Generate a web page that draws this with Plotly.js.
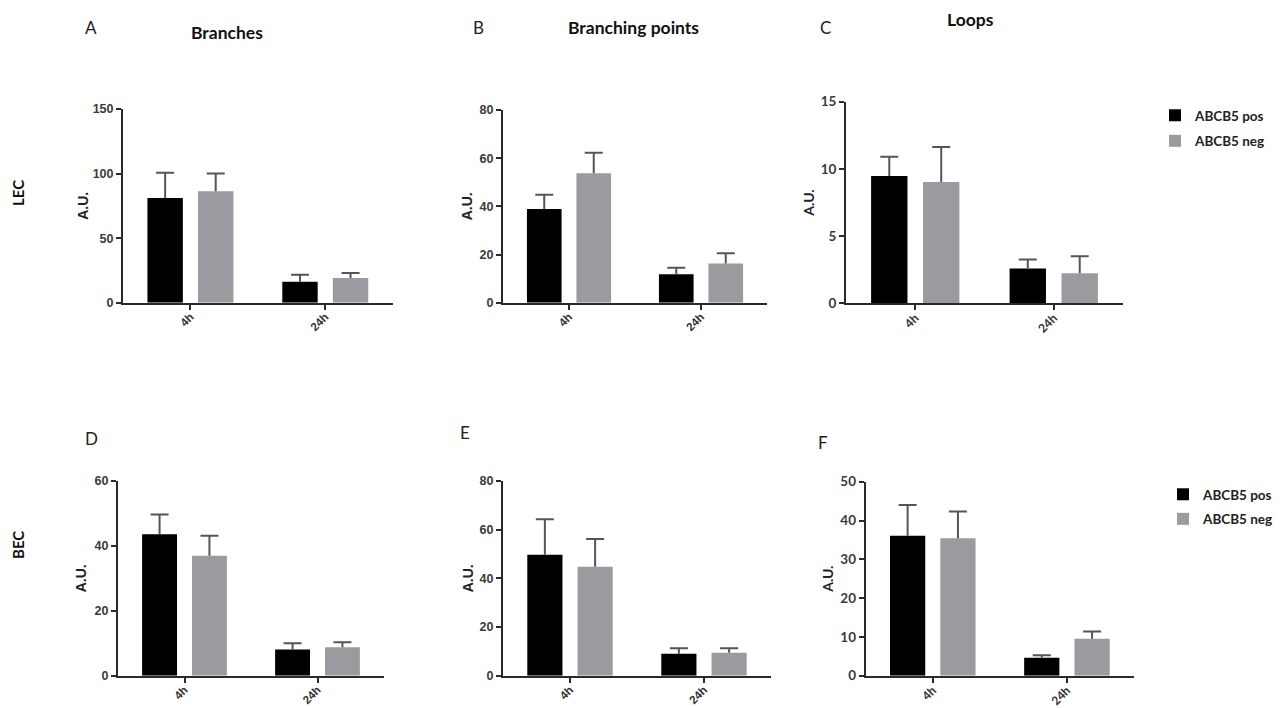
<!DOCTYPE html>
<html>
<head>
<meta charset="utf-8">
<script src="https://cdn.plot.ly/plotly-3.0.1.min.js"></script>
<style>html,body{margin:0;padding:0;background:#fff}</style>
</head>
<body>
<div id="chart" style="width:1282px;height:708px"></div>
<script>
// ---------- data ----------
const timepoints = ['4h', '24h'];
const seriesNames = ['ABCB5 pos', 'ABCB5 neg'];

// A: LEC Branches
const lecBranchesPos = [81.0, 16.2];
const lecBranchesPosErr = [19.7, 5.4];
const lecBranchesNeg = [86.4, 19.1];
const lecBranchesNegErr = [13.6, 3.9];
// B: LEC Branching points
const lecPointsPos = [38.9, 11.8];
const lecPointsPosErr = [5.9, 2.7];
const lecPointsNeg = [53.7, 16.3];
const lecPointsNegErr = [8.6, 4.2];
// C: LEC Loops
const lecLoopsPos = [9.47, 2.58];
const lecLoopsPosErr = [1.43, 0.67];
const lecLoopsNeg = [9.03, 2.23];
const lecLoopsNegErr = [2.6, 1.27];
// D: BEC Branches
const becBranchesPos = [43.6, 8.1];
const becBranchesPosErr = [6.1, 1.9];
const becBranchesNeg = [37.0, 8.8];
const becBranchesNegErr = [6.1, 1.5];
// E: BEC Branching points
const becPointsPos = [49.7, 9.0];
const becPointsPosErr = [14.6, 2.3];
const becPointsNeg = [44.8, 9.4];
const becPointsNegErr = [11.4, 1.9];
// F: BEC Loops
const becLoopsPos = [36.1, 4.6];
const becLoopsPosErr = [7.9, 0.7];
const becLoopsNeg = [35.4, 9.5];
const becLoopsNegErr = [6.9, 1.9];

const yTickValsA = [0, 50, 100, 150];
const yTickValsB = [0, 20, 40, 60, 80];
const yTickValsC = [0, 5, 10, 15];
const yTickValsD = [0, 20, 40, 60];
const yTickValsE = [0, 20, 40, 60, 80];
const yTickValsF = [0, 10, 20, 30, 40, 50];

// ---------- layout helpers ----------
const W = 1282, H = 708;
const POS_COLOR = '#000000';
const NEG_COLOR = '#9b9b9f';
const ERR_COLOR = '#555555';
const ARIAL = 'Liberation Sans, Arial, sans-serif';
const CALIBRI = 'Lato, Open Sans, sans-serif';

const panels = [
  {pos: lecBranchesPos, posErr: lecBranchesPosErr, neg: lecBranchesNeg, negErr: lecBranchesNegErr,
   ticks: yTickValsA, px: [123, 392.7], py: [109, 302.7], font: ARIAL, legend: null, standoff: 1},
  {pos: lecPointsPos, posErr: lecPointsPosErr, neg: lecPointsNeg, negErr: lecPointsNegErr,
   ticks: yTickValsB, px: [503, 767], py: [110, 302.7], font: ARIAL, legend: null, standoff: 4},
  {pos: lecLoopsPos, posErr: lecLoopsPosErr, neg: lecLoopsNeg, negErr: lecLoopsNegErr,
   ticks: yTickValsC, px: [846, 1123], py: [101.7, 303.3], font: CALIBRI, legend: 'legend', standoff: 3},
  {pos: becBranchesPos, posErr: becBranchesPosErr, neg: becBranchesNeg, negErr: becBranchesNegErr,
   ticks: yTickValsD, px: [118, 384], py: [481, 675.7], font: ARIAL, legend: null, standoff: 5},
  {pos: becPointsPos, posErr: becPointsPosErr, neg: becPointsNeg, negErr: becPointsNegErr,
   ticks: yTickValsE, px: [503, 771], py: [481, 675.7], font: ARIAL, legend: null, standoff: 3},
  {pos: becLoopsPos, posErr: becLoopsPosErr, neg: becLoopsNeg, negErr: becLoopsNegErr,
   ticks: yTickValsF, px: [865.7, 1134], py: [481.7, 675.7], font: CALIBRI, legend: 'legend2', standoff: 3}
];

const traces = [];
const legendFont = {family: CALIBRI, size: 13.5, color: '#222', weight: 'bold'};
const layout = {
  width: W, height: H,
  margin: {l: 0, r: 0, t: 0, b: 0},
  paper_bgcolor: '#ffffff',
  plot_bgcolor: '#ffffff',
  barmode: 'group',
  bargap: 0.25,
  bargroupgap: 0.3,
  font: {family: ARIAL, color: '#333333'},
  showlegend: true,
  legend: {x: 1155 / W, xanchor: 'left', y: 1 - 100 / H, yanchor: 'top',
           font: legendFont, tracegroupgap: 5, traceorder: 'grouped', bgcolor: 'rgba(0,0,0,0)'},
  legend2: {x: 1163 / W, xanchor: 'left', y: 1 - 479 / H, yanchor: 'top',
           font: legendFont, tracegroupgap: 4, traceorder: 'grouped', bgcolor: 'rgba(0,0,0,0)'},
  annotations: [],
  shapes: []
};

panels.forEach((p, i) => {
  const n = i + 1;
  const xa = n === 1 ? 'x' : 'x' + n;
  const ya = n === 1 ? 'y' : 'y' + n;
  const series = [
    {vals: p.pos, err: p.posErr, color: POS_COLOR, name: seriesNames[0], grp: 'pos'},
    {vals: p.neg, err: p.negErr, color: NEG_COLOR, name: seriesNames[1], grp: 'neg'}
  ];
  series.forEach((s, k) => {
    // visible bar with the error stem (no caps)
    const t = {
      type: 'bar', x: timepoints, y: s.vals, name: s.name,
      xaxis: xa, yaxis: ya, offsetgroup: s.grp,
      marker: {color: s.color, line: {width: 0}},
      error_y: {type: 'data', symmetric: false, array: s.err, arrayminus: s.vals.map(() => 0),
                color: ERR_COLOR, thickness: 2, width: 0},
      showlegend: !!p.legend,
      legendgroup: p.legend ? (p.legend + k) : undefined,
      hoverinfo: 'x+y+name'
    };
    if (p.legend) t.legend = p.legend;
    traces.push(t);
    // transparent bar in the same slot, carrying only the cap at mean + error
    traces.push({
      type: 'bar', x: timepoints, y: s.vals.map((v, j) => v + s.err[j]), name: s.name + ' error',
      xaxis: xa, yaxis: ya, offsetgroup: s.grp,
      marker: {color: 'rgba(0,0,0,0)', line: {width: 0}},
      error_y: {type: 'data', symmetric: true, array: s.vals.map(() => 0),
                color: ERR_COLOR, thickness: 2, width: 9},
      showlegend: false, hoverinfo: 'skip'
    });
  });
  const xKey = n === 1 ? 'xaxis' : 'xaxis' + n;
  const yKey = n === 1 ? 'yaxis' : 'yaxis' + n;
  const isCal = p.font === CALIBRI;
  layout[xKey] = {
    domain: [p.px[0] / W, p.px[1] / W],
    anchor: ya,
    type: 'category',
    range: [-0.5, 1.5],
    showline: true, linecolor: '#2a2a2a', linewidth: 2,
    ticks: 'outside', ticklen: 5, tickwidth: 2, tickcolor: '#2a2a2a',
    tickangle: -45,
    ticklabelstandoff: -4,
    tickfont: {family: p.font, size: isCal ? 12 : 11.5, color: '#333', weight: 'bold'},
    showgrid: false, zeroline: false, fixedrange: true
  };
  const top = p.ticks[p.ticks.length - 1];
  layout[yKey] = {
    domain: [1 - p.py[1] / H, 1 - p.py[0] / H],
    anchor: xa,
    range: [0, top],
    tickvals: p.ticks,
    ticktext: p.ticks.map(String),
    showline: true, linecolor: '#2a2a2a', linewidth: 2,
    ticks: 'outside', ticklen: 5, tickwidth: 2, tickcolor: '#2a2a2a',
    tickfont: {family: p.font, size: isCal ? 13.5 : 12.5, color: '#3a3a3a', weight: 'bold'},
    title: {text: 'A.U.', standoff: p.standoff,
            font: {family: p.font, size: 14, color: '#222', weight: 'bold'}},
    showgrid: false, zeroline: false, fixedrange: true
  };
});

// panel letters
const letters = [
  ['A', 91, 27], ['B', 479, 27], ['C', 825, 27],
  ['D', 91, 438], ['E', 465, 432], ['F', 823, 442]
];
letters.forEach(([t, x, y]) => layout.annotations.push({
  text: t, xref: 'paper', yref: 'paper', x: x / W, y: 1 - y / H,
  xanchor: 'center', yanchor: 'middle', showarrow: false,
  font: {family: CALIBRI, size: 17, color: '#222'}
}));
// panel titles
const titles = [['Branches', 226.5, 33], ['Branching points', 633, 28], ['Loops', 970, 20]];
titles.forEach(([t, x, y]) => layout.annotations.push({
  text: t, xref: 'paper', yref: 'paper', x: x / W, y: 1 - y / H,
  xanchor: 'center', yanchor: 'middle', showarrow: false,
  font: {family: CALIBRI, size: 17.5, color: '#111', weight: 'bold'}
}));
// row labels
[['LEC', 18, 193], ['BEC', 18, 545]].forEach(([t, x, y]) => layout.annotations.push({
  text: t, xref: 'paper', yref: 'paper', x: x / W, y: 1 - y / H,
  xanchor: 'center', yanchor: 'middle', showarrow: false, textangle: -90,
  font: {family: CALIBRI, size: 15, color: '#111', weight: 'bold'}
}));

Plotly.newPlot('chart', traces, layout, {displayModeBar: false, responsive: false});
</script>
</body>
</html>
